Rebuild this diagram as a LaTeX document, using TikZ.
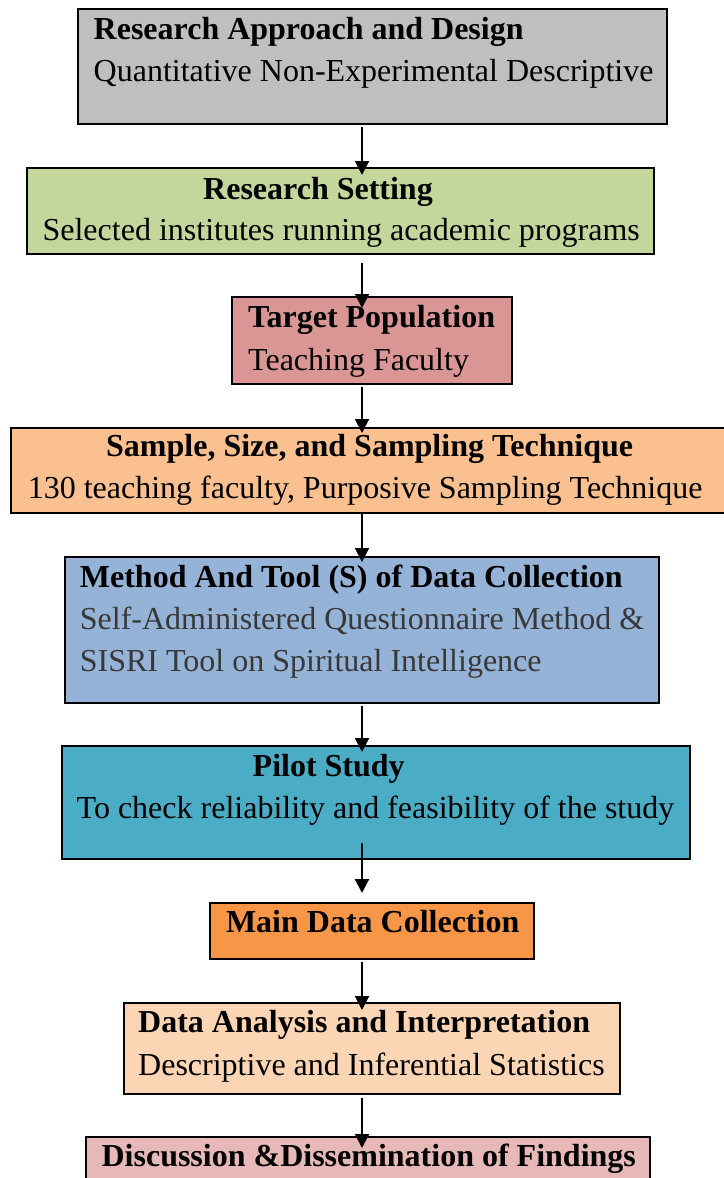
\documentclass[tikz,border=0pt]{standalone}
\usepackage{fontspec}
\setmainfont{Liberation Serif}
\usetikzlibrary{calc, arrows.meta}

\definecolor{cdesign}{HTML}{BFBFBF}
\definecolor{csetting}{HTML}{C3D69B}
\definecolor{cpopul}{HTML}{D99694}
\definecolor{csample}{HTML}{FAC090}
\definecolor{cmethod}{HTML}{95B3D7}
\definecolor{cpilot}{HTML}{4BACC6}
\definecolor{cmain}{HTML}{F79646}
\definecolor{canalysis}{HTML}{FCD5B5}
\definecolor{cdiscuss}{HTML}{E6B9B8}

\begin{document}
\begin{tikzpicture}[x=1pt, y=-1pt,
      box/.style={rectangle, draw=black, line width=2pt,
                  inner sep=0pt, outer sep=0pt},
      ttl/.style={anchor=base west, inner sep=0pt,
                  font=\fontsize{32}{42}\selectfont\bfseries},
      txt/.style={anchor=base west, inner sep=0pt, align=left,
                  font=\fontsize{32}{41.8}\selectfont},
      flow/.style={draw=black, line width=2pt,
                   -{Triangle[length=14pt,width=14pt]}},
    ]
    \useasboundingbox (0,0) rectangle (723,1178);

    % ---- boxes -----------------------------------------------------
    \node[box, fill=cdesign, minimum width=589, minimum height=115]
      (design) at (372.5,66.5) {};
    \node[box, fill=csetting, minimum width=627, minimum height=86]
      (setting) at (340.5,211) {};
    \node[box, fill=cpopul, minimum width=280, minimum height=87]
      (popul) at (372,340.5) {};
    \node[box, fill=csample, minimum width=714, minimum height=85]
      (sample) at (368,470.5) {};
    \node[box, fill=cmethod, minimum width=594.5, minimum height=146]
      (method) at (361.75,630) {};
    \node[box, fill=cpilot, minimum width=628, minimum height=113]
      (pilot) at (376,802.5) {};
    \node[box, fill=cmain, minimum width=324, minimum height=56]
      (maindata) at (372,931) {};
    \node[box, fill=canalysis, minimum width=496.5, minimum height=91]
      (analysis) at (371.75,1048.5) {};
    \node[box, fill=cdiscuss, minimum width=563.5, minimum height=76]
      (discuss) at (368,1175) {};

    % ---- texts -----------------------------------------------------
    \node[ttl] (designT) at (93.5,39.5) {Research Approach and Design};
    \node[txt] (designB) at (93.5,81) {Quantitative Non-Experimental Descriptive};

    \node[ttl] (settingT) at (203,199) {Research Setting};
    \node[txt] (settingB) at (42.4,240.5) {Selected institutes running academic programs};

    \node[ttl] (populT) at (248,327.7) {Target Population};
    \node[txt] (populB) at (248,370) {Teaching Faculty};

    \node[ttl] (sampleT) at (106,456.7) {Sample, Size, and Sampling Technique};
    \node[txt] (sampleB) at (27.6,498.3) {130 teaching faculty, Purposive Sampling Technique};

    % base of a two-line node is its last line
    \node[ttl] (methodT) at (79.7,587.7) {Method And Tool (S) of Data Collection};
    \node[txt, text=black!78] (methodB) at (79.7,671.7)
      {Self-Administered Questionnaire Method \&\\SISRI Tool on Spiritual Intelligence};

    \node[ttl] (pilotT) at (252.5,776.7) {Pilot Study};
    \node[txt] (pilotB) at (76.5,818.3) {To check reliability and feasibility of the study};

    \node[ttl] (mainT) at (225.8,932.7) {Main Data Collection};

    \node[ttl] (analysisT) at (138,1032.7) {Data Analysis and Interpretation};
    \node[txt] (analysisB) at (138,1075) {Descriptive and Inferential Statistics};

    \node[ttl] (discussT) at (101.4,1166.7) {Discussion \&Dissemination of Findings};

    % ---- spine of arrows -------------------------------------------
    \coordinate (spine) at (362,0);
    \draw[flow] ($(spine |- design.south)+(0,3)$) -- ($(spine |- setting.north)+(0,7)$);
    \draw[flow] ($(spine |- setting.south)+(0,9)$) -- ($(spine |- popul.north)+(0,11)$);
    \draw[flow] ($(spine |- popul.south)+(0,3)$) -- ($(spine |- sample.north)+(0,5)$);
    \draw[flow] (spine |- sample.south) -- ($(spine |- method.north)+(0,5)$);
    \draw[flow] ($(spine |- method.south)+(0,3)$) -- ($(spine |- pilot.north)+(0,6)$);
    \draw[flow] ($(spine |- pilot.south)+(0,-16)$) -- ($(spine |- maindata.north)+(0,-10)$);
    \draw[flow] ($(spine |- maindata.south)+(0,3)$) -- ($(spine |- analysis.north)+(0,7)$);
    \draw[flow] ($(spine |- analysis.south)+(0,4)$) -- ($(spine |- discuss.north)+(0,11)$);

  \end{tikzpicture}
\end{document}
